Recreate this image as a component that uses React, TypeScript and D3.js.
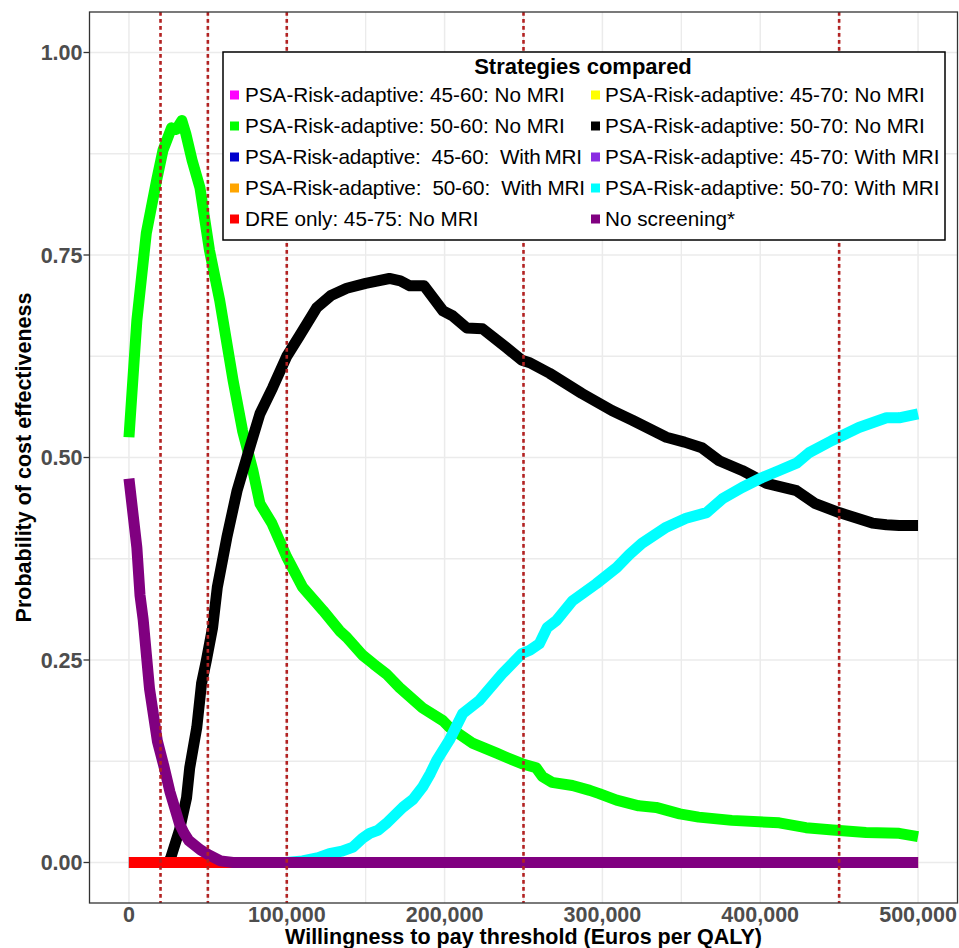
import React from 'react';
import * as d3 from 'd3';

const W = 959;
const H = 948;

const xTicks = [0, 100000, 200000, 300000, 400000, 500000];
const xMinor = [50000, 150000, 250000, 350000, 450000];
const yTicks = [0, 0.25, 0.5, 0.75, 1];
const yMinor = [0.125, 0.375, 0.625, 0.875];
const thresholds = [20000, 50000, 100000, 250000, 450000];

const zeroLine: [number, number][] = [[0, 0], [500000, 0]];

const green: [number, number][] = [
  [0, 0.525], [5000, 0.669], [11000, 0.777], [17500, 0.842], [21500, 0.879], [27000, 0.907], [30000, 0.905],
  [33500, 0.916], [36000, 0.9], [40000, 0.867], [45000, 0.833], [51000, 0.756], [57500, 0.694], [66000, 0.595],
  [72000, 0.533], [78500, 0.484], [83000, 0.443], [90500, 0.419], [100000, 0.377], [110000, 0.34], [123000, 0.311],
  [133500, 0.286], [138000, 0.278], [148000, 0.256], [155000, 0.245], [163000, 0.233], [171500, 0.216],
  [186000, 0.191], [199000, 0.175], [203000, 0.167], [218000, 0.147], [233000, 0.135], [239000, 0.13],
  [249000, 0.122], [258000, 0.117], [262000, 0.106], [268000, 0.099], [281000, 0.095], [292000, 0.089],
  [298000, 0.085], [309000, 0.077], [323000, 0.07], [334000, 0.068], [349000, 0.06], [361000, 0.056],
  [382000, 0.052], [412000, 0.049], [429000, 0.043], [446000, 0.04], [467000, 0.037], [488000, 0.036], [500000, 0.032],
];

const black: [number, number][] = [
  [0, 0], [25000, 0], [26500, 0.006], [32000, 0.04], [36500, 0.08], [38500, 0.117], [43000, 0.167], [46000, 0.221],
  [49000, 0.249], [53000, 0.29], [56000, 0.34], [62000, 0.401], [68500, 0.459], [76500, 0.512], [83000, 0.554],
  [91000, 0.586], [100000, 0.625], [108000, 0.65], [119000, 0.685], [128000, 0.7], [138000, 0.709], [150000, 0.715],
  [165000, 0.721], [172000, 0.718], [178000, 0.712], [187000, 0.712], [199000, 0.681], [205000, 0.675],
  [214000, 0.66], [224000, 0.659], [239000, 0.636], [249000, 0.62], [254000, 0.617], [266500, 0.604],
  [287000, 0.579], [306000, 0.558], [319000, 0.546], [340500, 0.525], [352000, 0.519], [363000, 0.512],
  [374000, 0.496], [388500, 0.484], [404000, 0.468], [423000, 0.459], [435000, 0.443], [450000, 0.432],
  [471000, 0.419], [480000, 0.417], [488000, 0.416], [500000, 0.416],
];

const cyan: [number, number][] = [
  [0, 0], [100000, 0], [110000, 0.002], [120000, 0.006], [127000, 0.011], [135000, 0.014], [142000, 0.019],
  [148000, 0.03], [152500, 0.036], [158000, 0.04], [163000, 0.048], [173500, 0.068], [180000, 0.078],
  [186000, 0.093], [191000, 0.11], [195000, 0.126], [203000, 0.151], [211500, 0.184], [222000, 0.2],
  [236500, 0.233], [249000, 0.258], [254000, 0.262], [260000, 0.27], [265000, 0.29], [271000, 0.299],
  [281000, 0.323], [296000, 0.344], [309000, 0.364], [317000, 0.38], [325000, 0.394], [340500, 0.414],
  [353000, 0.425], [366000, 0.432], [376000, 0.449], [388500, 0.463], [401000, 0.475], [412000, 0.484],
  [423000, 0.493], [431000, 0.506], [445500, 0.521], [462500, 0.537], [480000, 0.549], [488000, 0.549], [500000, 0.554],
];

const purple: [number, number][] = [
  [0, 0.474], [5000, 0.389], [7000, 0.33], [9000, 0.3], [13000, 0.215], [18000, 0.15], [22000, 0.12],
  [26000, 0.087], [32000, 0.048], [35000, 0.036], [38000, 0.027], [45000, 0.016], [50000, 0.01],
  [58000, 0.002], [66000, 0], [500000, 0],
];

const legendTitle = 'Strategies compared';
const legendLeft = [
  'PSA-Risk-adaptive: 45-60: No MRI',
  'PSA-Risk-adaptive: 50-60: No MRI',
  'PSA-Risk-adaptive:  45-60:  With\u2009MRI',
  'PSA-Risk-adaptive:  50-60:  With MRI',
  'DRE only: 45-75: No MRI',
];
const legendRight = [
  'PSA-Risk-adaptive: 45-70: No MRI',
  'PSA-Risk-adaptive: 50-70: No MRI',
  'PSA-Risk-adaptive: 45-70: With MRI',
  'PSA-Risk-adaptive: 50-70: With MRI',
  'No screening*',
];
const colorsLeft = ['#FF00FF', '#00FF00', '#0000CD', '#FFA500', '#FF0000'];
const colorsRight = ['#FFFF00', '#000000', '#8A2BE2', '#00FFFF', '#800080'];

// drawing order (legend by row)
const series: { color: string; data: [number, number][] }[] = [
  { color: '#FF00FF', data: zeroLine },
  { color: '#FFFF00', data: zeroLine },
  { color: '#00FF00', data: green },
  { color: '#000000', data: black },
  { color: '#0000CD', data: zeroLine },
  { color: '#8A2BE2', data: zeroLine },
  { color: '#FFA500', data: zeroLine },
  { color: '#00FFFF', data: cyan },
  { color: '#FF0000', data: zeroLine },
  { color: '#800080', data: purple },
];

const FONT = '"Liberation Sans", Arial, sans-serif';

export default function App() {
  const left = 89.5, right = 957.5, top = 12, bottom = 903;
  const x = d3.scaleLinear().domain([-25000, 525000]).range([left, right]);
  const y = d3.scaleLinear().domain([-0.05, 1.05]).range([bottom, top]);
  const line = d3.line<[number, number]>().x((d) => x(d[0])).y((d) => y(d[1]));
  const fmt = d3.format(',');

  const lg = { x: 223, y: 52, w: 722, h: 188 };
  const rowY = [95, 126, 157, 188, 219];
  const leftFit: (number | undefined)[] = [undefined, undefined, 337, 340, undefined];

  return (
    <div style={{ position: 'absolute', left: 0, top: 0 }}>
      <svg width={W} height={H} style={{ display: 'block', background: '#fff' }} fontFamily={FONT}>
        <rect x={0} y={0} width={W} height={H} fill="#fff" />
        {/* grid */}
        {xMinor.map((v) => (
          <line key={'xm' + v} x1={x(v)} x2={x(v)} y1={top} y2={bottom} stroke="#EBEBEB" strokeWidth={1.3} />
        ))}
        {yMinor.map((v) => (
          <line key={'ym' + v} x1={left} x2={right} y1={y(v)} y2={y(v)} stroke="#EBEBEB" strokeWidth={1.3} />
        ))}
        {xTicks.map((v) => (
          <line key={'xg' + v} x1={x(v)} x2={x(v)} y1={top} y2={bottom} stroke="#EBEBEB" strokeWidth={1.5} />
        ))}
        {yTicks.map((v) => (
          <line key={'yg' + v} x1={left} x2={right} y1={y(v)} y2={y(v)} stroke="#EBEBEB" strokeWidth={1.5} />
        ))}
        {/* series */}
        {series.map((s, i) => (
          <path key={'s' + i} d={line(s.data) || ''} fill="none" stroke={s.color} strokeWidth={11} strokeLinejoin="round" strokeLinecap="butt" />
        ))}
        {/* threshold lines (on top of series) */}
        {thresholds.map((v) => (
          <line key={'t' + v} x1={x(v)} x2={x(v)} y1={top} y2={bottom} stroke="#B22222" strokeWidth={2.6} strokeDasharray="3.8,3.2" />
        ))}
        {/* panel border */}
        <rect x={left} y={top} width={right - left} height={bottom - top} fill="none" stroke="#333333" strokeWidth={1.3} />
        {/* y axis */}
        {yTicks.map((v) => (
          <g key={'yt' + v}>
            <line x1={left - 6} x2={left} y1={y(v)} y2={y(v)} stroke="#333333" strokeWidth={1.3} />
            <text x={left - 7} y={y(v)} dy="0.36em" textAnchor="end" fontSize={21.5} fontWeight="bold" fill="#4D4D4D">
              {v.toFixed(2)}
            </text>
          </g>
        ))}
        {/* x axis */}
        {xTicks.map((v) => (
          <text key={'xt' + v} x={x(v)} y={922} textAnchor="middle" fontSize={21.5} fontWeight="bold" fill="#4D4D4D">
            {fmt(v)}
          </text>
        ))}
        <text x={(left + right) / 2} y={944} textAnchor="middle" fontSize={21.5} fontWeight="bold" fill="#000">
          Willingness to pay threshold (Euros per QALY)
        </text>
        <text transform={`translate(31,${(top + bottom) / 2}) rotate(-90)`} textAnchor="middle" fontSize={21.5} fontWeight="bold" fill="#000">
          Probability of cost effectiveness
        </text>
        {/* legend */}
        <rect x={lg.x} y={lg.y} width={lg.w} height={lg.h} fill="#fff" stroke="#000" strokeWidth={1.5} />
        <text x={583} y={66} dy="0.36em" textAnchor="middle" fontSize={22} fontWeight="bold" fill="#000">
          {legendTitle}
        </text>
        {legendLeft.map((t, i) => (
          <g key={'ll' + i}>
            <rect x={230} y={rowY[i] - 4.5} width={9} height={9} fill={colorsLeft[i]} />
            <text
              x={245}
              y={rowY[i]}
              dy="0.36em"
              fontSize={20.7}
              fill="#000"
              style={{ whiteSpace: 'pre' }}
              {...(leftFit[i] ? { textLength: leftFit[i], lengthAdjust: 'spacing' } : {})}
            >
              {t}
            </text>
          </g>
        ))}
        {legendRight.map((t, i) => (
          <g key={'lr' + i}>
            <rect x={591} y={rowY[i] - 4.5} width={9} height={9} fill={colorsRight[i]} />
            <text x={605} y={rowY[i]} dy="0.36em" fontSize={20.7} fill="#000" style={{ whiteSpace: 'pre' }}>
              {t}
            </text>
          </g>
        ))}
      </svg>
    </div>
  );
}
